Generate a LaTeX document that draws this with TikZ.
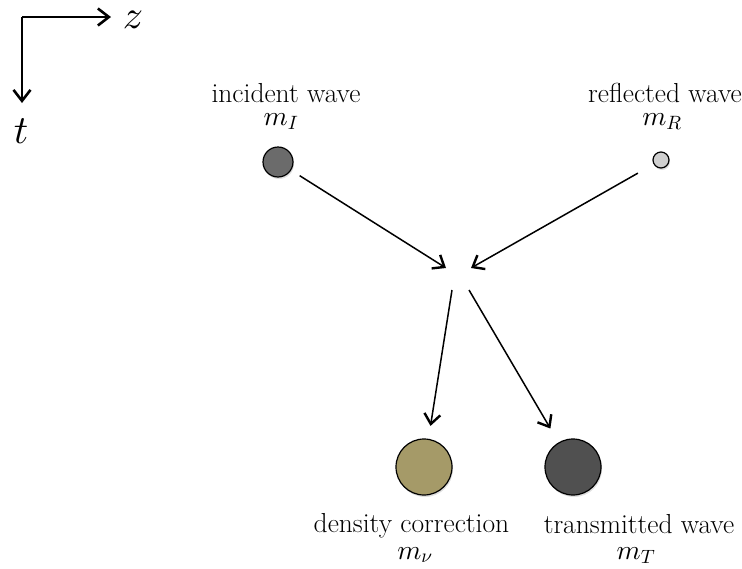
\documentclass[tikz,border=0pt]{standalone}
\DeclareFontShape{OML}{cmm}{m}{it}{<->cmmi10}{\skewchar\font'177}
\usetikzlibrary{arrows.meta,shadows}
\definecolor{incfill}{HTML}{6B6B6B}
\definecolor{reffill}{HTML}{CFCFCF}
\definecolor{denfill}{HTML}{A59A68}
\definecolor{trafill}{HTML}{505050}
\begin{document}
\begin{tikzpicture}[x=1pt,y=-1pt,
  ball/.style={circle,draw=black,line width=1.2pt,inner sep=0pt,
    drop shadow={shadow xshift=1pt,shadow yshift=-2pt,opacity=0.25}},
  lab/.style={font=\fontsize{27.5}{32}\selectfont,inner sep=0pt,anchor=base},
  conn/.style={line width=1.5pt,-{Straight Barb[length=10pt,width=16pt,line width=2.4pt]}},
  axis/.style={line width=2pt,-{Straight Barb[length=11pt,width=17pt,line width=2.6pt]}},
  axlab/.style={font=\fontsize{40}{46}\selectfont,inner sep=0pt}]
\useasboundingbox (0,0) rectangle (742,568);
% axes
\coordinate (o) at (22,17);
\coordinate (zend) at (111,17);
\coordinate (tend) at (22,103);
\draw[axis] (o) -- (zend);
\draw[axis] (o) -- (tend);
\node[axlab] (zl) at (133,20) {$z$};
\node[axlab] (tl) at (21,131) {$t$};
% balls
\node[ball,fill=incfill,minimum size=30pt] (inc) at (278,162) {};
\node[ball,fill=reffill,minimum size=16pt] (ref) at (661,160) {};
\node[ball,fill=denfill,minimum size=56pt] (den) at (424,467) {};
\node[ball,fill=trafill,minimum size=56pt] (tra) at (573,467) {};
% labels
\node[lab] (incl) at (286,102) {incident wave};
\node[lab] (incm) at (281,125) {$m_I$};
\node[lab] (refl) at (665,102) {reflected wave};
\node[lab] (refm) at (662,125) {$m_R$};
\node[lab] (denl) at (411.5,532) {density correction};
\node[lab] (denm) at (415,559) {$m_\nu$};
\node[lab] (tral) at (639,533) {transmitted wave};
\node[lab] (tram) at (636,559) {$m_T$};
% interaction point
\coordinate (cin1) at (446,268);
\coordinate (cin2) at (471,268);
\coordinate (cout1) at (452,290);
\coordinate (cout2) at (469,290);
\draw[conn,shorten <=10pt] (inc) -- (cin1);
\draw[conn,shorten <=18pt] (ref) -- (cin2);
\draw[conn,shorten >=13pt] (cout1) -- (den);
\draw[conn,shorten >=16pt] (cout2) -- (tra);
\end{tikzpicture}
\end{document}
